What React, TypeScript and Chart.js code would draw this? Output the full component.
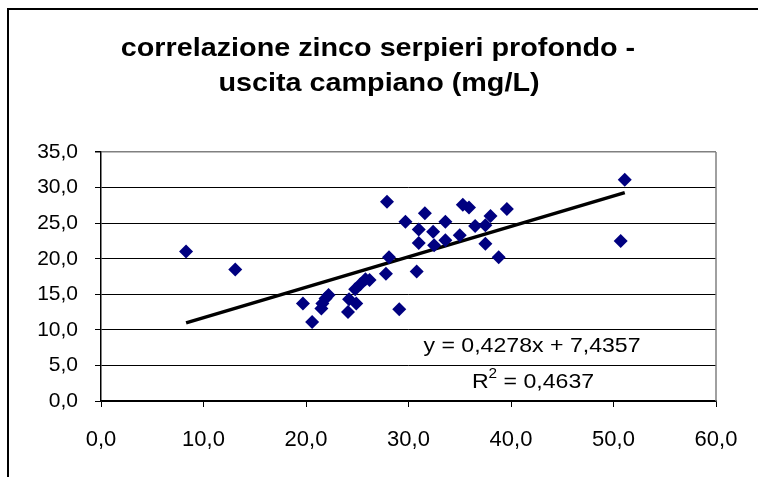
import React, { useEffect, useRef } from "react";
import { Chart, registerables } from "chart.js";

Chart.register(...registerables);

const titleLines = ["correlazione zinco serpieri profondo -", "uscita campiano (mg/L)"];
const xValues = [8.3, 13.1, 19.7, 20.6, 21.5, 21.6, 21.9, 22.2, 24.1, 24.2, 24.9, 24.8, 25.3, 25.8, 26.2, 27.8, 28.1, 27.9, 29.7, 29.1, 31.0, 31.0, 30.8, 31.6, 32.4, 32.5, 33.6, 33.6, 35.0, 35.3, 35.9, 36.5, 37.5, 38.0, 37.5, 38.8, 39.6, 51.1, 50.7];
const yValues = [21.0, 18.5, 13.7, 11.1, 13.0, 13.7, 14.4, 14.9, 12.5, 14.3, 13.7, 15.7, 16.4, 17.1, 17.0, 17.9, 20.2, 28.0, 25.2, 12.9, 24.1, 22.2, 18.2, 26.4, 23.8, 21.9, 25.2, 22.6, 23.3, 27.6, 27.2, 24.6, 24.7, 26.0, 22.1, 20.2, 27.0, 31.1, 22.5];
const trendSlope = 0.4278;
const trendIntercept = 7.4357;
const equationText = "y = 0,4278x + 7,4357";
const r2Value = "0,4637";
const xTicks = [0, 10, 20, 30, 40, 50, 60];
const yTicks = [0, 5, 10, 15, 20, 25, 30, 35];

const fmt = (v: number) => v.toFixed(1).replace(".", ",");

export default function App() {
  const ref = useRef<HTMLCanvasElement | null>(null);
  useEffect(() => {
    if (!ref.current) return;
    const xMin = Math.min(...xValues);
    const xMax = Math.max(...xValues);
    const trend = [xMin, xMax].map((x) => ({ x, y: trendSlope * x + trendIntercept }));
    const font = "'Liberation Sans', Arial, sans-serif";

    const stretchText = (ctx: any, text: string, cx: number, y: number, sx: number) => {
      ctx.save();
      ctx.translate(cx, y);
      ctx.scale(sx, 1);
      ctx.fillText(text, 0, 0);
      ctx.restore();
    };

    const decor = {
      id: "decor",
      beforeDraw(chart: any) {
        const ctx = chart.ctx;
        ctx.save();
        ctx.fillStyle = "#ffffff";
        ctx.fillRect(0, 0, chart.width, chart.height);
        ctx.restore();
      },
      afterDraw(chart: any) {
        const ctx = chart.ctx;
        const a = chart.chartArea;
        ctx.save();
        // outer border
        ctx.strokeStyle = "#000000";
        ctx.lineWidth = 2;
        ctx.beginPath();
        ctx.moveTo(8, chart.height + 5);
        ctx.lineTo(8, 9);
        ctx.lineTo(chart.width + 5, 9);
        ctx.stroke();
        // plot area right border
        ctx.strokeStyle = "#808080";
        ctx.lineWidth = 1.5;
        ctx.beginPath();
        ctx.moveTo(a.right, a.top);
        ctx.lineTo(a.right, a.bottom);
        ctx.stroke();
        // title
        ctx.fillStyle = "#000000";
        ctx.textAlign = "center";
        ctx.textBaseline = "alphabetic";
        ctx.font = `bold 25px ${font}`;
        stretchText(ctx, titleLines[0], 378, 56, 1.15);
        stretchText(ctx, titleLines[1], 379, 91, 1.15);
        // equation
        const sX = 1.1;
        ctx.font = `21px ${font}`;
        stretchText(ctx, equationText, 532, 352, sX);
        ctx.textAlign = "left";
        const r2a = "R";
        const r2b = " = " + r2Value;
        const wA = ctx.measureText(r2a).width * sX;
        ctx.font = `14px ${font}`;
        const wS = ctx.measureText("2").width * sX;
        ctx.font = `21px ${font}`;
        const wB = ctx.measureText(r2b).width * sX;
        const total = wA + wS + wB;
        const sx0 = 533 - total / 2;
        stretchText(ctx, r2a, sx0, 388, sX);
        ctx.font = `14px ${font}`;
        stretchText(ctx, "2", sx0 + wA, 378, sX);
        ctx.font = `21px ${font}`;
        stretchText(ctx, r2b, sx0 + wA + wS, 388, sX);
        ctx.restore();
      },
    };

    const chart = new Chart(ref.current, {
      type: "scatter",
      data: {
        datasets: [
          {
            type: "scatter",
            data: xValues.map((x, i) => ({ x, y: yValues[i] })),
            pointStyle: "rectRot",
            pointRadius: 7,
            backgroundColor: "#000080",
            borderColor: "#000080",
            borderWidth: 0,
            order: 1,
          },
          {
            type: "line",
            data: trend,
            borderColor: "#000000",
            borderWidth: 3.5,
            pointRadius: 0,
            showLine: true,
            fill: false,
            order: 2,
          } as any,
        ],
      },
      options: {
        responsive: false,
        animation: false,
        devicePixelRatio: 1,
        layout: { padding: { top: 152, right: 42, left: 0, bottom: 0 } },
        plugins: { legend: { display: false }, tooltip: { enabled: false }, title: { display: false } },
        scales: {
          x: {
            type: "linear",
            min: 0,
            max: 60,
            afterFit: (s: any) => { s.height = 76; },
            afterBuildTicks: (s: any) => { s.ticks = xTicks.map((v) => ({ value: v })); },
            ticks: { callback: (v: any) => fmt(Number(v)), color: "#000", font: { family: font, size: 22 }, padding: 20, maxRotation: 0, autoSkip: false },
            grid: { drawOnChartArea: false, drawTicks: true, tickLength: 6, tickColor: "#000", color: "#000" },
            border: { color: "#000", width: 1.5 },
          },
          y: {
            type: "linear",
            min: 0,
            max: 35,
            afterFit: (s: any) => { s.width = 101; },
            afterBuildTicks: (s: any) => { s.ticks = yTicks.map((v) => ({ value: v })); },
            ticks: { callback: (v: any) => fmt(Number(v)), color: "#000", font: { family: font, size: 21 }, padding: 17, autoSkip: false },
            grid: {
              color: (c: any) => (c.tick && c.tick.value === 35 ? "#808080" : "#000000"),
              lineWidth: (c: any) => (c.tick && c.tick.value === 35 ? 1.5 : 1),
              tickColor: "#000",
              tickLength: 6,
            },
            border: { color: "#000", width: 1.5 },
          },
        },
      },
      plugins: [decor],
    } as any);
    return () => chart.destroy();
  }, []);
  return (
    <div style={{ position: "absolute", left: 0, top: 0, width: 758, height: 477 }}>
      <canvas ref={ref} width={758} height={477} style={{ display: "block", width: 758, height: 477 }} />
    </div>
  );
}
